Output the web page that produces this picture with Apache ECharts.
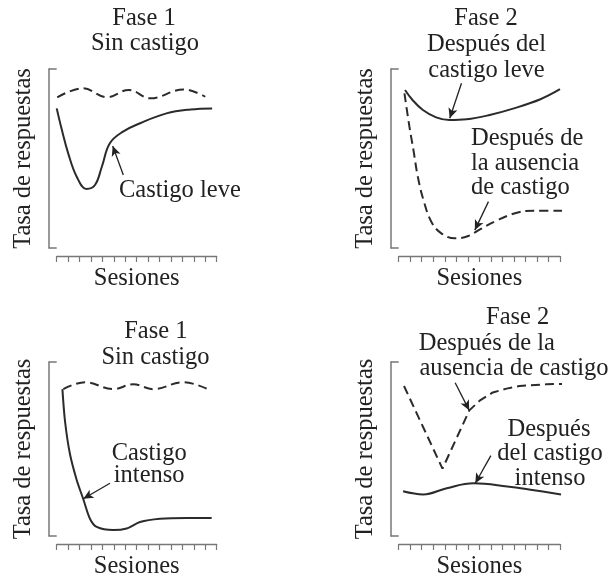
<!DOCTYPE html>
<html>
<head>
<meta charset="utf-8">
<script src="https://cdn.jsdelivr.net/npm/echarts@6/dist/echarts.min.js"></script>
<style>
html,body{margin:0;padding:0;background:#fff;}
#chart{width:612px;height:580px;}
</style>
</head>
<body>
<div id="chart"></div>
<script>
// ---- data (sessions on x, response rate 0-100 on y) ----
var sessionMax = 14;
// Panel 1: Fase 1, castigo leve
var p1SinX = [0.05, 2.3, 4.4, 6.3, 8.2, 11.1, 13.0];
var p1SinY = [84.2, 89.2, 84.2, 88.3, 83.6, 88.6, 84.5];
var p1LeveX = [0.0, 0.45, 1.0, 1.75, 2.6, 3.35, 3.95, 4.65, 5.8, 7.3, 9.6, 11.7, 13.6];
var p1LeveY = [78, 66, 53, 39.8, 33, 35.2, 45.4, 58.5, 65, 69.7, 75.2, 77.4, 78];
// Panel 2: Fase 2 after leve
var p2LeveX = [0.55, 1.2, 2.1, 3.25, 4.4, 5.9, 7.9, 10.0, 12.3, 14.0];
var p2LeveY = [88.3, 82.7, 77.1, 73, 71.5, 71.9, 74.3, 78, 83.1, 88.7];
var p2AusX = [0.5, 0.93, 1.28, 1.66, 2.15, 2.83, 3.7, 4.87, 6.04, 7.05, 8.5, 10.26, 11.7, 14.8];
var p2AusY = [86.4, 67.8, 54.7, 39.8, 26.8, 14.7, 8.2, 5.4, 6.7, 10.4, 15.3, 19.7, 20.8, 20.8];
// Panel 3: Fase 1, castigo intenso
var p3SinX = [0.58, 2.48, 4.95, 6.7, 8.45, 11.08, 13.12];
var p3SinY = [84.4, 88.4, 84.4, 87.2, 84.4, 88.4, 84.7];
var p3IntX = [0.5, 0.73, 1.16, 1.75, 2.33, 2.91, 3.5, 4.95, 6.12, 7.29, 9.04, 11.37, 13.56];
var p3IntY = [84.4, 65.8, 47.1, 32.2, 21.1, 9.9, 5.2, 3.4, 4.3, 8, 9.9, 10.4, 10.4];
// Panel 4: Fase 2 after intenso
var p4AusX = [0.46, 3.8, 6.13, 7.03, 8.17, 9.36, 10.5, 12.83, 14.7];
var p4AusY = [86.2, 38.7, 72.2, 77.8, 82.5, 84.7, 86.2, 87.2, 87.5];
var p4IntX = [0.38, 2.13, 4.17, 6.5, 9.42, 11.75, 14.09];
var p4IntY = [25.7, 23.9, 27.5, 30.3, 28.5, 26.3, 23.9];
// annotation arrows [fromX, fromY, toX, toY] in data units
var p1Arrows = [[3.5, 106.9, 2.2, 89.6], [5.83, 40.8, 4.9, 57]];
var p2Arrows = [[5.45, 92, 4.43, 72.5], [7.79, 25.9, 6.61, 10]];
var p3Arrows = [[3.35, 105.7, 2.19, 88.4], [4.66, 30.3, 2.33, 21.4]];
var p4Arrows = [[4.9, 88.1, 6.12, 72.2], [8.0, 46.2, 6.65, 30.3]];
// texts
var yTitle = 'Tasa de respuestas';
var xTitle = 'Sesiones';

function pairs(xs, ys) { return xs.map(function (x, i) { return [x, ys[i]]; }); }

var FONT = 'Liberation Serif';
var FS = 24.5;
var INK = '#222';
var LINE = '#2b2b2b';
var AXIS = '#777';

var grids = [
  {left: 56.7, top: 69, width: 160, height: 179},
  {left: 398.7, top: 69, width: 161.3, height: 179},
  {left: 56.7, top: 362, width: 160, height: 179},
  {left: 398.7, top: 362, width: 161.3, height: 179}
];

var xAxes = grids.map(function (g, i) {
  return {
    type: 'value', gridIndex: i, min: 0, max: sessionMax, interval: 1, offset: 8,
    axisLine: {show: true, onZero: false, lineStyle: {color: AXIS, width: 1.3}},
    axisTick: {show: true, length: 6, lineStyle: {color: AXIS, width: 1.2}},
    axisLabel: {show: false}, splitLine: {show: false},
    name: xTitle, nameLocation: 'middle', nameGap: 10,
    nameTextStyle: {fontFamily: FONT, fontSize: FS, color: INK}
  };
});
var yAxes = grids.map(function (g, i) {
  return {
    type: 'value', gridIndex: i, min: 0, max: 100, interval: 100, offset: 8,
    axisLine: {show: true, onZero: false, lineStyle: {color: AXIS, width: 1.5}},
    axisTick: {show: true, inside: true, length: 8, lineStyle: {color: AXIS, width: 1.5}},
    axisLabel: {show: false}, splitLine: {show: false},
    name: yTitle, nameLocation: 'middle', nameGap: 13, nameRotate: 90,
    nameTextStyle: {fontFamily: FONT, fontSize: FS, color: INK}
  };
});

function lineSeries(i, xs, ys, dashed, smooth) {
  return {
    type: 'line', xAxisIndex: i, yAxisIndex: i, data: pairs(xs, ys),
    smooth: smooth, showSymbol: false, symbol: 'none', clip: false,
    lineStyle: {color: LINE, width: 2, type: dashed ? [9, 5] : 'solid'},
    silent: true, animation: false
  };
}
function arrowSeries(i, arrows) {
  return {
    type: 'line', xAxisIndex: i, yAxisIndex: i, data: [], clip: false, silent: true, animation: false,
    markLine: {
      silent: true, animation: false,
      symbol: ['none', 'arrow'], symbolSize: [7, 10],
      label: {show: false},
      lineStyle: {color: '#222', width: 1.3, type: 'solid'},
      data: arrows.map(function (a) { return [{coord: [a[0], a[1]]}, {coord: [a[2], a[3]]}]; })
    }
  };
}

var series = [
  lineSeries(0, p1SinX, p1SinY, true, 0.4),
  lineSeries(0, p1LeveX, p1LeveY, false, 0.4),
  lineSeries(1, p2LeveX, p2LeveY, false, 0.4),
  lineSeries(1, p2AusX, p2AusY, true, 0.4),
  lineSeries(2, p3SinX, p3SinY, true, 0.4),
  lineSeries(2, p3IntX, p3IntY, false, 0.3),
  lineSeries(3, p4AusX, p4AusY, true, false),
  lineSeries(3, p4IntX, p4IntY, false, 0.4),
  arrowSeries(0, p1Arrows), arrowSeries(1, p2Arrows), arrowSeries(2, p3Arrows), arrowSeries(3, p4Arrows)
];

// annotation text: [text, x, y, align]
var labels = [
  ['Fase 1', 144, 19, 'center'], ['Sin castigo', 145, 43.5, 'center'], ['Castigo leve', 119, 190.5, 'left'],
  ['Fase 2', 486, 19, 'center'], ['Después del', 486.5, 44.7, 'center'], ['castigo leve', 486.5, 71, 'center'],
  ['Después de', 471, 138.3, 'left'], ['la ausencia', 471, 163.3, 'left'], ['de castigo', 471, 188, 'left'],
  ['Fase 1', 155.8, 331.7, 'center'], ['Sin castigo', 155.5, 358, 'center'],
  ['Castigo', 149.2, 453.3, 'center'], ['intenso', 149.2, 476, 'center'],
  ['Fase 2', 517.7, 317.5, 'center'], ['Después de la', 486.8, 343.3, 'center'], ['ausencia de castigo', 514, 369, 'center'],
  ['Después', 549, 430, 'center'], ['del castigo', 550, 454, 'center'], ['intenso', 550, 478.3, 'center']
];
var graphics = labels.map(function (l) {
  return {
    type: 'text', x: l[1], y: l[2], silent: true,
    style: {text: l[0], fontFamily: FONT, fontSize: FS, fill: INK, align: l[3], verticalAlign: 'middle'}
  };
});

var chart = echarts.init(document.getElementById('chart'), null, {renderer: 'canvas'});
chart.setOption({
  backgroundColor: '#ffffff',
  animation: false,
  grid: grids,
  xAxis: xAxes,
  yAxis: yAxes,
  series: series,
  graphic: graphics
});
</script>
</body>
</html>
